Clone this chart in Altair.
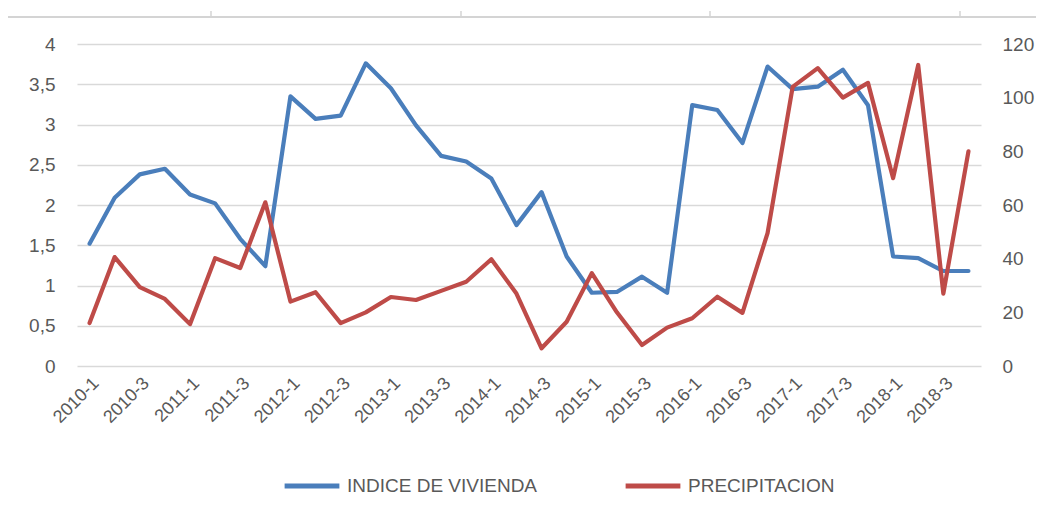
import altair as alt
import pandas as pd

quarters = [
    "2010-1", "2010-2", "2010-3", "2010-4",
    "2011-1", "2011-2", "2011-3", "2011-4",
    "2012-1", "2012-2", "2012-3", "2012-4",
    "2013-1", "2013-2", "2013-3", "2013-4",
    "2014-1", "2014-2", "2014-3", "2014-4",
    "2015-1", "2015-2", "2015-3", "2015-4",
    "2016-1", "2016-2", "2016-3", "2016-4",
    "2017-1", "2017-2", "2017-3", "2017-4",
    "2018-1", "2018-2", "2018-3", "2018-4",
]
indice_vivienda = [
    1.52, 2.09, 2.38, 2.45, 2.13, 2.02, 1.58, 1.24,
    3.35, 3.07, 3.11, 3.76, 3.45, 2.99, 2.61, 2.54,
    2.33, 1.75, 2.16, 1.36, 0.91, 0.92, 1.11, 0.91,
    3.24, 3.18, 2.77, 3.72, 3.44, 3.47, 3.68, 3.24,
    1.36, 1.34, 1.18, 1.18,
]
precipitacion = [
    16, 40.6, 29.4, 25, 15.6, 40.2, 36.5, 61,
    24, 27.5, 16, 20, 25.7, 24.6, 28, 31.4,
    39.8, 27, 6.6, 16.5, 34.6, 20, 7.8, 14.3,
    17.8, 25.8, 19.8, 49.5, 104, 111, 100, 105.5,
    70, 112.2, 27, 80,
]
tick_labels = quarters[::2]
series_names = ["INDICE DE VIVIENDA", "PRECIPITACION"]
series_colors = ["#4a7ebb", "#be4b48"]

df = pd.DataFrame({
    "quarter": quarters,
    "indice": indice_vivienda,
    "precip": precipitacion,
    "s1": series_names[0],
    "s2": series_names[1],
})

FONT = "Liberation Sans"
GRAY = "#595959"

color_scale = alt.Scale(domain=series_names, range=series_colors)

x_enc = alt.X(
    "quarter:N",
    sort=quarters,
    scale=alt.Scale(type="point", padding=0.5),
    axis=alt.Axis(
        title=None, values=tick_labels, labelAngle=-45, labelFontSize=18,
        labelColor=GRAY, labelFont=FONT, ticks=False, domain=False,
        labelPadding=8, grid=False,
    ),
)

base = alt.Chart(df)

line1 = base.mark_line(strokeWidth=4.2, strokeJoin="round", strokeCap="round").encode(
    x=x_enc,
    y=alt.Y(
        "indice:Q",
        scale=alt.Scale(domain=[0, 4], nice=False),
        axis=alt.Axis(
            title=None, values=[0, 0.5, 1, 1.5, 2, 2.5, 3, 3.5, 4],
            format="~g",
            labelExpr="replace(datum.label, '.', ',')",
            labelFontSize=19, labelColor=GRAY, labelFont=FONT,
            ticks=False, domain=False, labelPadding=22,
            grid=True, gridColor="#d9d9d9", gridWidth=1.5,
        ),
    ),
    color=alt.Color("s1:N", scale=color_scale, title=None),
)

line2 = base.mark_line(strokeWidth=4.2, strokeJoin="round", strokeCap="round").encode(
    x=x_enc,
    y=alt.Y(
        "precip:Q",
        scale=alt.Scale(domain=[0, 120], nice=False),
        axis=alt.Axis(
            title=None, orient="right", values=[0, 20, 40, 60, 80, 100, 120],
            labelFontSize=19, labelColor=GRAY, labelFont=FONT,
            ticks=False, domain=False, labelPadding=21, grid=False,
        ),
    ),
    color=alt.Color("s2:N", scale=color_scale, title=None),
)

frame_data = alt.Data(values=[{"k": 0}])
frame_left = alt.Chart(frame_data).mark_rule(color="#d4d4d4", strokeWidth=2).encode(
    x=alt.value(-70), y=alt.value(-27), y2=alt.value(470)
)
frame_top = alt.Chart(frame_data).mark_rule(color="#d4d4d4", strokeWidth=2).encode(
    x=alt.value(-70), x2=alt.value(960), y=alt.value(-27)
)
frame_ticks = [
    alt.Chart(frame_data).mark_rule(color="#d4d4d4", strokeWidth=1.5).encode(
        x=alt.value(xv), y=alt.value(-33), y2=alt.value(-27)
    )
    for xv in (134, 384, 633, 883)
]

chart = (
    alt.layer(line1, line2, frame_left, frame_top, *frame_ticks)
    .resolve_scale(y="independent")
    .properties(
        width=904, height=322,
        autosize=alt.AutoSizeParams(type="none"),
        padding={"left": 69, "top": 36, "right": 55, "bottom": 136},
    )
    .configure_view(stroke=None)
    .configure_legend(
        orient="none", legendX=205, legendY=412, direction="horizontal",
        symbolType="stroke", symbolSize=3000, symbolStrokeWidth=5,
        labelFontSize=19, labelColor=GRAY, labelFont=FONT, labelOffset=5,
        labelLimit=400, columnPadding=77, title=None,
    )
)

chart.save("out.html", embed_options={"renderer": "svg", "actions": False})
